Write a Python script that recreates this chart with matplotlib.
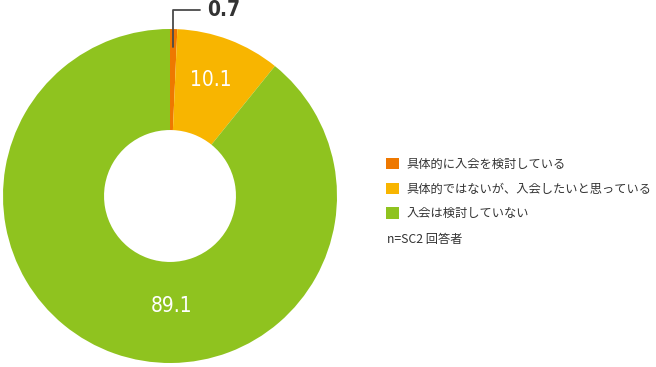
import numpy as np
import matplotlib
matplotlib.use('Agg')
import matplotlib.pyplot as plt

plt.rcParams['font.family'] = ['Noto Sans CJK JP', 'DejaVu Sans']

labels = ['具体的に入会を検討している', '具体的ではないが、入会したいと思っている', '入会は検討していない']
values = [0.7, 10.1, 89.1]
colors = ['#EE7800', '#F8B500', '#8FC31F']
note = 'n=SC2 回答者'

fig = plt.figure(figsize=(6.56, 3.67), dpi=100)
# pie axes: centre ~ (170,196) px, radius ~167 px
ax = fig.add_axes([3 / 656, 4 / 367, 334 / 656, 334 / 367])
wedges, _ = ax.pie(values, colors=colors, startangle=90, counterclock=False,
                   radius=1.0, wedgeprops=dict(width=0.605, linewidth=0))
ax.set_xlim(-1, 1)
ax.set_ylim(-1, 1)
ax.set_aspect('equal')
ax.axis('off')

num_font = ['DejaVu Sans']
total = sum(values)
# small slice: leader line
mid = np.deg2rad(90 - values[0] / total * 180)
ax.annotate(f'{values[0]}', xy=(0.89 * np.cos(mid), 0.89 * np.sin(mid)),
            xytext=(0.22, 1.114), textcoords='data',
            ha='left', va='center', fontsize=15, fontweight='bold',
            fontstretch='condensed', color='#333333', family=num_font,
            annotation_clip=False,
            arrowprops=dict(arrowstyle='-', color='#4a4a4a', lw=1.3,
                            shrinkA=3, shrinkB=0,
                            connectionstyle='angle,angleA=0,angleB=90,rad=0'))

# labels inside bigger slices
label_pos = {1: (0.245, 0.695), 2: (0.012, -0.66)}
for i, (x, y) in label_pos.items():
    ax.text(x, y, f'{values[i]}', ha='center', va='center', fontsize=15,
            fontstretch='condensed', color='white', family=num_font)

leg = fig.legend(wedges, labels, loc='upper left', bbox_to_anchor=(386 / 656, 1 - 158 / 367),
                 frameon=False, fontsize=8.8, handlelength=1.05, handleheight=1.05,
                 handletextpad=0.6, labelspacing=0.95, borderaxespad=0, borderpad=0)
for t in leg.get_texts():
    t.set_color('#333333')
fig.text(387 / 656, 1 - 240 / 367, note, fontsize=8.8, color='#333333', va='center', ha='left')

fig.savefig('out.png', dpi=100)
